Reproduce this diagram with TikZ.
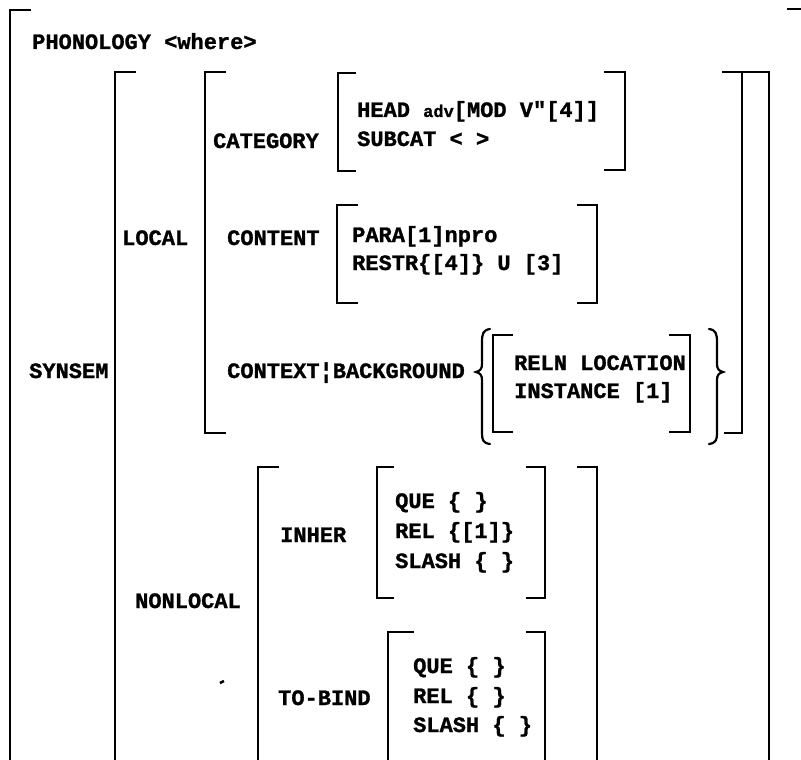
\documentclass[tikz,border=0pt]{standalone}
\usepackage{fontspec}
\usepackage{tikz}
\usetikzlibrary{positioning}
\newfontfamily\avmfont{Liberation Mono}[BoldFeatures={FakeBold=1.2}]
\colorlet{inkline}{black}

\begin{document}
\begin{tikzpicture}[x=1pt, y=-1pt,
    avm/.style={anchor=base west, inner sep=0pt, font={\avmfont\bfseries\fontsize{22}{26}\selectfont}},
    brk/.style={draw=inkline, line width=2.2pt, line cap=rect, line join=miter}]
    \useasboundingbox (0,0) rectangle (801,760);

    % outermost matrix
    \draw[brk] (30,10) -- (10,10) -- (10,762);
    \draw[brk] (788,9) -- (801,9);
    \node[avm] (phon) at (32,49) {PHONOLOGY <where>};

    % SYNSEM
    \node[avm] (synsem) at (29,378) {SYNSEM};
    \draw[brk] (135,72) -- (115,72) -- (115,762);
    \draw[brk] (723,72) -- (769,72) -- (769,762);

    % LOCAL
    \node[avm] (local) at (122,245) {LOCAL};
    \draw[brk] (225,72) -- (205,72) -- (205,433) -- (225,433);
    \draw[brk] (742,72) -- (742,433) -- (725,433);

    \node[avm] (cat) at (213,148) {CATEGORY};
    \draw[brk] (355,73) -- (338,73) -- (338,171) -- (355,171);
    \draw[brk] (605,72) -- (625,72) -- (625,170) -- (605,170);
    \node[avm] (head) at (357,117) {HEAD {\fontsize{17}{17}\selectfont adv}[MOD V"[4]]};
    \node[avm] (subcat) at (357,146) {SUBCAT < >};

    \node[avm] (content) at (227,245) {CONTENT};
    \draw[brk] (357,205) -- (337,205) -- (337,303) -- (357,303);
    \draw[brk] (578,205) -- (597,205) -- (597,303) -- (578,303);
    \node[avm] (para) at (352,242) {PARA[1]npro};
    \node[avm] (restr) at (352,270) {RESTR\{[4]\} U [3]};

    \node[avm] (context) at (227,378) {CONTEXT¦BACKGROUND};
    \draw[brk, line cap=round] (490,329) .. controls (483,330) and (482,334) .. (482,342) -- (482,364)
        .. controls (482,369) and (480,371) .. (476,372) .. controls (480,373) and (482,375) .. (482,380)
        -- (482,433) .. controls (482,440) and (483,443) .. (490,444);
    \draw[brk, line cap=round] (709,329) .. controls (716,330) and (717,334) .. (717,342) -- (717,364)
        .. controls (717,369) and (719,371) .. (723,372) .. controls (719,373) and (717,375) .. (717,380)
        -- (717,433) .. controls (717,440) and (716,443) .. (709,444);
    \draw[brk] (512,335) -- (493,335) -- (493,432) -- (512,432);
    \draw[brk] (670,335) -- (690,335) -- (690,432) -- (670,432);
    \node[avm] (reln) at (514,370) {RELN LOCATION};
    \node[avm] (inst) at (514,398) {INSTANCE [1]};

    % NONLOCAL
    \node[avm] (nonlocal) at (135,608) {NONLOCAL};
    \draw[brk] (278,467) -- (258,467) -- (258,762);
    \draw[brk] (578,467) -- (597,467) -- (597,762);

    \node[avm] (inher) at (280,542) {INHER};
    \draw[brk] (393,467) -- (377,467) -- (377,598) -- (393,598);
    \draw[brk] (527,467) -- (545,467) -- (545,598) -- (527,598);
    \node[avm] (que1) at (395,508) {QUE \{ \}};
    \node[avm] (rel1) at (395,538) {REL \{[1]\}};
    \node[avm] (slash1) at (395,568) {SLASH \{ \}};

    \node[avm] (tobind) at (278,705) {TO-BIND};
    \draw[brk] (413,632) -- (388,632) -- (388,762);
    \draw[brk] (527,632) -- (545,632) -- (545,762);
    \node[avm] (que2) at (413,673) {QUE \{ \}};
    \node[avm] (rel2) at (413,703) {REL \{ \}};
    \node[avm] (slash2) at (413,732) {SLASH \{ \}};

    \draw[line width=2.5pt] (220,683) -- (224,681);
\end{tikzpicture}
\end{document}
